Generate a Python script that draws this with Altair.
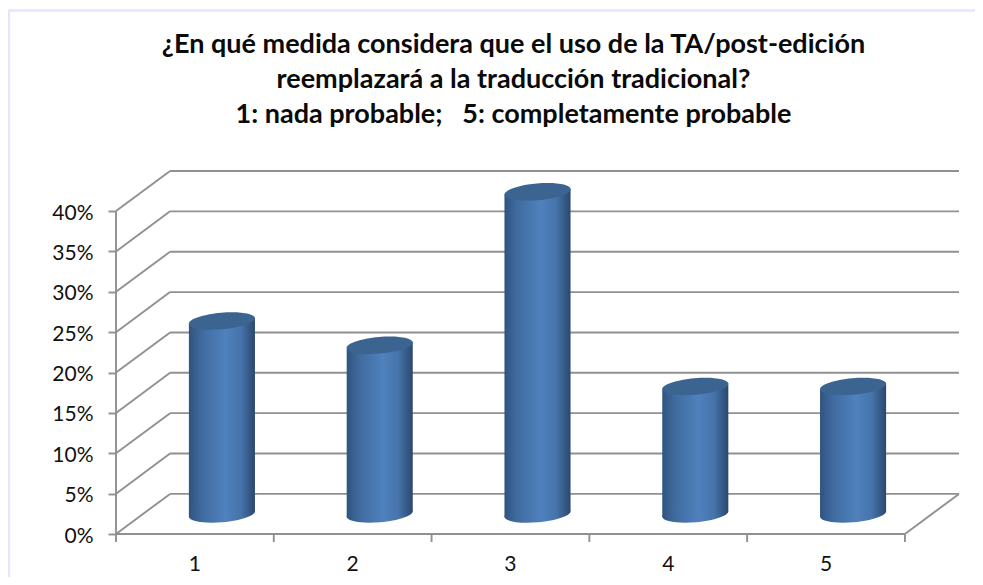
import altair as alt
import pandas as pd

categories = ["1", "2", "3", "4", "5"]
values = [23.9, 20.9, 39.9, 15.8, 15.8]
y_ticks = [0, 5, 10, 15, 20, 25, 30, 35, 40]
title_lines = [
    "¿En qué medida considera que el uso de la TA/post-edición",
    "reemplazará a la traducción tradicional?",
    "1: nada probable;\u00a0\u00a0 5: completamente probable",
]

# 3D projection: depth offset in data units
DX, DY = 54 / 157.6, 40 / 8.05
BAR_HALF = 33 / 157.6
TILT = 3 / 8.05
XMAX, YMAX = 5 + DX, 40 + DY
GREY = "#909090"
FRAME = "#e6e5fb"
FONT = "Lato"
LW = 1.9

x_scale = alt.Scale(domain=[0, XMAX], nice=False, zero=False)
y_scale = alt.Scale(domain=[0, YMAX], nice=False, zero=False)
y_axis = alt.Axis(values=y_ticks, labelExpr="datum.value + '%'", title=None, grid=False,
                  domain=False, tickColor=GREY, tickWidth=LW, tickSize=8,
                  labelFont=FONT, labelFontSize=21, labelColor="#111111", labelPadding=15,
                  labelOffset=2)
X = lambda f="x": alt.X(f"{f}:Q", scale=x_scale, axis=None)
Y = lambda f="y": alt.Y(f"{f}:Q", scale=y_scale, axis=y_axis)

# wireframe
segs = []
for t in y_ticks:
    segs.append(dict(x=DX, y=t + DY, x2=5 + DX, y2=t + DY))
    segs.append(dict(x=0, y=t, x2=DX, y2=t + DY))
segs.append(dict(x=0, y=0, x2=5, y2=0))
segs.append(dict(x=5, y=0, x2=5 + DX, y2=DY))
segs.append(dict(x=0, y=0, x2=0, y2=40))
wire = alt.Chart(pd.DataFrame(segs)).mark_rule(color=GREY, strokeWidth=LW).encode(
    x=X(), y=Y(), x2="x2:Q", y2="y2:Q"
)

# frame of the picture
frame_left = alt.Chart(pd.DataFrame({"a": [0]})).mark_rule(color=FRAME, strokeWidth=2.5).encode(
    x=alt.value(-107), y=alt.value(-161), y2=alt.value(406)
)
frame_top = alt.Chart(pd.DataFrame({"a": [0]})).mark_rule(color=FRAME, strokeWidth=2.5).encode(
    x=alt.value(-108), x2=alt.value(859), y=alt.value(-160.5)
)

# x ticks
xt = alt.Chart(pd.DataFrame({"x": list(range(6))})).mark_rule(color=GREY, strokeWidth=LW).encode(
    x=X(), y=alt.value(363), y2=alt.value(371)
)

# category labels
ax = alt.Chart(pd.DataFrame({
    "x": [i + 0.5 for i in range(5)],
    "y": [0] * 5,
    "cat": categories,
})).mark_text(font=FONT, fontSize=21, color="#111111", baseline="middle", dy=31).encode(
    x=X(), y=Y(), text="cat:N"
)

GRAD = alt.Gradient(
    gradient="linear", x1=0, x2=1, y1=0, y2=0,
    stops=[
        alt.GradientStop(color="#30537e", offset=0),
        alt.GradientStop(color="#3f6a9e", offset=0.18),
        alt.GradientStop(color="#4f81bd", offset=0.55),
        alt.GradientStop(color="#4674ab", offset=0.78),
        alt.GradientStop(color="#2b486d", offset=1),
    ],
)

body_rows, top_rows, base_rows = [], [], []
for i, (c, v) in enumerate(zip(categories, values)):
    cx = i + 0.5 + DX / 2
    base = DY / 2
    top = v + DY / 2
    top_rows.append(dict(x=cx, y=top, cat=c))
    base_rows.append(dict(x=cx, y=base, cat=c))
    body_rows.append(dict(x=cx - BAR_HALF, y=top - TILT, y2=base - TILT, cat=c))
    body_rows.append(dict(x=cx + BAR_HALF, y=top + TILT, y2=base + TILT, cat=c))

ELLIPSE = ("M-1,0 C-1,-0.138 -0.5523,-0.25 0,-0.25 C0.5523,-0.25 1,-0.138 1,0 "
           "C1,0.138 0.5523,0.25 0,0.25 C-0.5523,0.25 -1,0.138 -1,0 Z")
SIZE = 66.4 ** 2

base_e = alt.Chart(pd.DataFrame(base_rows)).mark_point(
    shape=ELLIPSE, size=SIZE, angle=355, filled=True, fill=GRAD, opacity=1
).encode(x=X(), y=Y())
body = alt.Chart(pd.DataFrame(body_rows)).mark_area(fill=GRAD, line=False).encode(
    x=X(), y=Y(), y2="y2:Q", detail="cat:N"
)
top_e = alt.Chart(pd.DataFrame(top_rows)).mark_point(
    shape=ELLIPSE, size=SIZE, angle=355, filled=True, fill="#3c6491", opacity=1
).encode(x=X(), y=Y())

chart = alt.layer(frame_left, frame_top, wire, xt, ax, base_e, body, top_e).properties(
    width=843,
    height=363,
    padding={"left": 108, "top": 163, "right": 16, "bottom": 43},
    autosize=alt.AutoSizeParams(type="none"),
    title=alt.TitleParams(
        text=title_lines, font=FONT, fontSize=27, fontWeight="bold", color="#0a0a0a",
        anchor="middle", dx=-24, offset=-147, lineHeight=35, baseline="bottom",
    ),
).configure_view(stroke=None)

chart.save("out.html", embed_options={"renderer": "svg", "actions": False})
